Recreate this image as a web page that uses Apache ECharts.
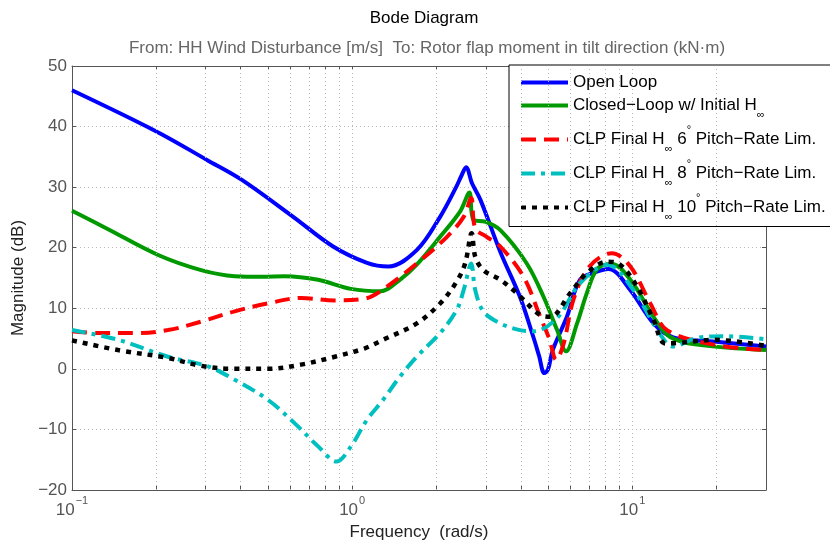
<!DOCTYPE html>
<html>
<head>
<meta charset="utf-8">
<script src="https://cdn.jsdelivr.net/npm/echarts@6/dist/echarts.min.js"></script>
<style>html,body{margin:0;padding:0;background:#fff;}#chart{width:830px;height:546px;}</style>
</head>
<body>
<div id="chart"></div>
<script>
// ---- data (frequency in rad/s, magnitude in dB) ----
var seriesNames = ['Open Loop', 'Closed-Loop w/ Initial H∞', 'CLP Final H∞ 6° Pitch-Rate Lim.', 'CLP Final H∞ 8° Pitch-Rate Lim.', 'CLP Final H∞ 10° Pitch-Rate Lim.'];

var openFreq = [0.1, 0.2, 0.303, 0.404, 0.616, 0.855, 1.13, 1.345, 1.70, 2.06, 2.35, 2.45, 2.55, 2.68, 2.87, 3.38, 3.97, 4.43, 4.65, 4.85, 5.0, 5.2, 5.84, 6.5, 7.3, 8.22, 9.84, 11.9, 14.0, 19.5, 30];
var openMag  = [46, 39.2, 34.5, 31.2, 25.1, 20.2, 17.5, 16.9, 19.6, 25.1, 30, 31.8, 33.3, 30.6, 27.9, 19.3, 11.9, 5.3, 2.1, -0.7, -0.1, 3.1, 8.6, 14.7, 15.9, 16.5, 13, 7.5, 5.2, 4.5, 3.7];

var greenFreq = [0.1, 0.134, 0.203, 0.289, 0.381, 0.48, 0.575, 0.756, 0.99, 1.26, 1.48, 1.70, 2.06, 2.43, 2.62, 2.71, 2.98, 3.38, 4.2, 4.82, 5.39, 5.8, 6.35, 6.88, 7.5, 8.45, 9.84, 11.9, 13.6, 17, 30];
var greenMag  = [26.1, 23.1, 18.8, 16.3, 15.3, 15.2, 15.3, 14.7, 13.2, 12.8, 14.7, 17.2, 21.8, 26, 29.1, 24.6, 24.3, 22.9, 17.4, 11.9, 6.4, 2.9, 7.5, 12.5, 16.5, 17.3, 14.7, 8.6, 5.3, 4.0, 3.1];

var redFreq = [0.1, 0.127, 0.168, 0.22, 0.289, 0.381, 0.50, 0.657, 0.867, 1.11, 1.26, 1.70, 2.18, 2.50, 2.66, 2.75, 3.02, 3.38, 4.09, 4.69, 5.05, 5.35, 5.69, 6.16, 7.0, 8.45, 9.84, 11.6, 13.3, 19.5, 30];
var redMag  = [6.2, 5.9, 5.9, 6.4, 7.8, 9.5, 10.8, 11.7, 11.3, 11.6, 12.8, 17.4, 21.8, 25.1, 28.2, 23.2, 21.8, 20.2, 15.2, 8.6, 5.0, 1.5, 4.2, 11.4, 16.8, 19.1, 16.9, 10.8, 6.4, 4.0, 3.1];

var cyanFreq = [0.1, 0.146, 0.22, 0.306, 0.381, 0.50, 0.624, 0.756, 0.88, 0.99, 1.13, 1.29, 1.48, 1.70, 2.06, 2.36, 2.50, 2.66, 2.75, 2.94, 3.38, 3.97, 4.44, 5.39, 6.5, 8.13, 10.1, 12.3, 14.0, 17.0, 21.1, 30];
var cyanMag  = [6.4, 4.8, 2.0, 0.4, -1.8, -5.1, -9.0, -12.8, -15.3, -12.8, -8.4, -5.1, -1.3, 2.0, 5.9, 9.7, 13.0, 17.4, 13.0, 9.5, 7.5, 6.4, 6.2, 8.4, 14.1, 17.2, 13.0, 6.4, 3.7, 5.1, 5.4, 4.9];

var blackFreq = [0.1, 0.146, 0.22, 0.289, 0.381, 0.50, 0.657, 0.867, 1.11, 1.29, 1.70, 2.06, 2.36, 2.53, 2.67, 2.75, 2.94, 3.38, 3.87, 4.69, 5.1, 6.0, 6.88, 8.13, 9.04, 10.4, 11.9, 13.1, 14.8, 19.5, 30];
var blackMag  = [4.7, 3.1, 1.8, 0.5, 0, 0, 0.7, 2.0, 3.4, 4.8, 7.5, 10.8, 14.4, 17.4, 22.4, 18.5, 16.3, 14.7, 12.5, 8.9, 8.6, 12.5, 15.8, 17.7, 17.2, 13.6, 8.1, 4.2, 4.3, 4.8, 3.8];

// axis ticks
var xMajorTicks = [0.1, 1, 10];
var xAllTicks = [0.1,0.2,0.3,0.4,0.5,0.6,0.7,0.8,0.9,1,2,3,4,5,6,7,8,9,10,20];
var yMin = -20, yMax = 50, yStep = 10;

function pairs(f, m) { return f.map(function (v, i) { return [v, m[i]]; }); }

var FONT = '"Liberation Sans", Arial, sans-serif';

var legendRich = {
  o: { fontSize: 17, lineHeight: 20, padding: [2, 0, 2, 0], color: '#000', fontFamily: FONT },
  t: { fontSize: 17, lineHeight: 30, color: '#000', fontFamily: FONT },
  s: { fontSize: 11, lineHeight: 10, verticalAlign: 'bottom', color: '#000', fontFamily: FONT },
  d: { fontSize: 11, lineHeight: 15, verticalAlign: 'top', color: '#000', fontFamily: FONT }
};
var legendFormat = {};
legendFormat[seriesNames[0]] = '{o|Open Loop}';
legendFormat[seriesNames[1]] = '{t|Closed\u2212Loop w/ Initial H}{s|\u221e}';
legendFormat[seriesNames[2]] = '{t|CLP Final H}{s|\u221e}{t| 6}{d|\u00b0}{t| Pitch\u2212Rate Lim.}';
legendFormat[seriesNames[3]] = '{t|CLP Final H}{s|\u221e}{t| 8}{d|\u00b0}{t| Pitch\u2212Rate Lim.}';
legendFormat[seriesNames[4]] = '{t|CLP Final H}{s|\u221e}{t| 10}{d|\u00b0}{t| Pitch\u2212Rate Lim.}';

function xLabel(v) {
  var e = Math.round(Math.log10(v));
  var es = e < 0 ? '\u2212' + Math.abs(e) : String(e);
  return '{b|10}{e|' + es + '}';
}
var xLabelRich = {
  b: { fontSize: 17, color: '#555', fontFamily: FONT, lineHeight: 24, verticalAlign: 'bottom' },
  e: { fontSize: 11, color: '#555', fontFamily: FONT, lineHeight: 24, verticalAlign: 'top', padding: [0,0,0,1] }
};

var axisLineStyle = { color: '#555', width: 1 };

var chart = echarts.init(document.getElementById('chart'), null, { renderer: 'canvas' });
var option = {
  animation: false,
  backgroundColor: '#fff',
  textStyle: { fontFamily: FONT },
  title: [
    { text: 'Bode Diagram', left: 419, top: 5, textAlign: 'center',
      textStyle: { fontSize: 17, fontWeight: 'normal', color: '#000', fontFamily: FONT } },
    { text: 'From: HH Wind Disturbance [m/s]  To: Rotor flap moment in tilt direction (kN\u00b7m)', left: 422, top: 35, textAlign: 'center',
      textStyle: { fontSize: 17, fontWeight: 'normal', color: '#666', fontFamily: FONT } }
  ],
  grid: { left: 72, right: 64, top: 66, bottom: 56, show: false },
  legend: {
    orient: 'vertical', left: 509, top: 65,
    padding: [7, 6, 4, 10],
    itemGap: 4, itemWidth: 47, itemHeight: 2,
    backgroundColor: '#fff', borderColor: '#000', borderWidth: 1,
    itemStyle: { opacity: 0 },
    lineStyle: { width: 4 },
    data: seriesNames,
    formatter: function (n) { return legendFormat[n]; },
    textStyle: { rich: legendRich, fontSize: 17, color: '#000' }
  },
  xAxis: [
    { type: 'log', logBase: 10, min: 0.1, max: 30, position: 'bottom',
      name: 'Frequency  (rad/s)', nameLocation: 'middle', nameGap: 33,
      nameTextStyle: { fontSize: 17, color: '#222', fontFamily: FONT },
      axisLine: { show: true, onZero: false, lineStyle: axisLineStyle },
      axisTick: { show: true, inside: true, length: 4, customValues: xAllTicks, lineStyle: axisLineStyle },
      axisLabel: { show: true, customValues: xMajorTicks, formatter: xLabel, rich: xLabelRich, margin: 5 },
      splitLine: { show: false }, minorTick: { show: false }
    },
    { type: 'log', logBase: 10, min: 0.1, max: 30, position: 'top',
      axisLine: { show: true, onZero: false, lineStyle: axisLineStyle },
      axisTick: { show: true, inside: true, length: 4, customValues: xAllTicks, lineStyle: axisLineStyle },
      axisLabel: { show: false }, splitLine: { show: false }
    }
  ],
  yAxis: [
    { type: 'value', min: yMin, max: yMax, interval: yStep, position: 'left',
      name: 'Magnitude (dB)', nameLocation: 'middle', nameGap: 41,
      nameTextStyle: { fontSize: 17, color: '#222', fontFamily: FONT },
      axisLine: { show: true, onZero: false, lineStyle: axisLineStyle },
      axisTick: { show: true, inside: true, length: 4, lineStyle: axisLineStyle },
      axisLabel: { fontSize: 17, color: '#555', margin: 5, fontFamily: FONT,
        formatter: function (v) { return v < 0 ? '\u2212' + Math.abs(v) : String(v); } },
      splitLine: { show: true, lineStyle: { color: '#b8b8b8', width: 1, type: [1, 3] } }
    },
    { type: 'value', min: yMin, max: yMax, interval: yStep, position: 'right',
      axisLine: { show: true, onZero: false, lineStyle: axisLineStyle },
      axisTick: { show: true, inside: true, length: 4, lineStyle: axisLineStyle },
      axisLabel: { show: false }, splitLine: { show: false }
    }
  ],
  series: [
    { name: '_grid', type: 'line', data: [], z: 1, silent: true, legendHoverLink: false,
      markLine: { silent: true, symbol: ['none', 'none'], label: { show: false },
        lineStyle: { color: '#b8b8b8', width: 1, type: [1, 3] },
        data: xAllTicks.slice(1).map(function (v) { return { xAxis: v }; }) } },
    { name: seriesNames[0], type: 'line', data: pairs(openFreq, openMag), smooth: 0.35, showSymbol: false, symbol: 'none', z: 3,
      lineStyle: { color: '#0000ff', width: 4 }, itemStyle: { color: '#0000ff' } },
    { name: seriesNames[1], type: 'line', data: pairs(greenFreq, greenMag), smooth: 0.35, showSymbol: false, symbol: 'none', z: 4,
      lineStyle: { color: '#009900', width: 4 }, itemStyle: { color: '#009900' } },
    { name: seriesNames[2], type: 'line', data: pairs(redFreq, redMag), smooth: 0.35, showSymbol: false, symbol: 'none', z: 5,
      lineStyle: { color: '#ff0000', width: 4, type: [15, 8] }, itemStyle: { color: '#ff0000' } },
    { name: seriesNames[3], type: 'line', data: pairs(cyanFreq, cyanMag), smooth: 0.35, showSymbol: false, symbol: 'none', z: 6,
      lineStyle: { color: '#00bfbf', width: 4, type: [14, 6, 4, 6] }, itemStyle: { color: '#00bfbf' } },
    { name: seriesNames[4], type: 'line', data: pairs(blackFreq, blackMag), smooth: 0.35, showSymbol: false, symbol: 'none', z: 7,
      lineStyle: { color: '#000000', width: 4.5, type: [5, 6], cap: 'butt' }, itemStyle: { color: '#000000' } }
  ]
};
chart.setOption(option);
</script>
</body>
</html>
